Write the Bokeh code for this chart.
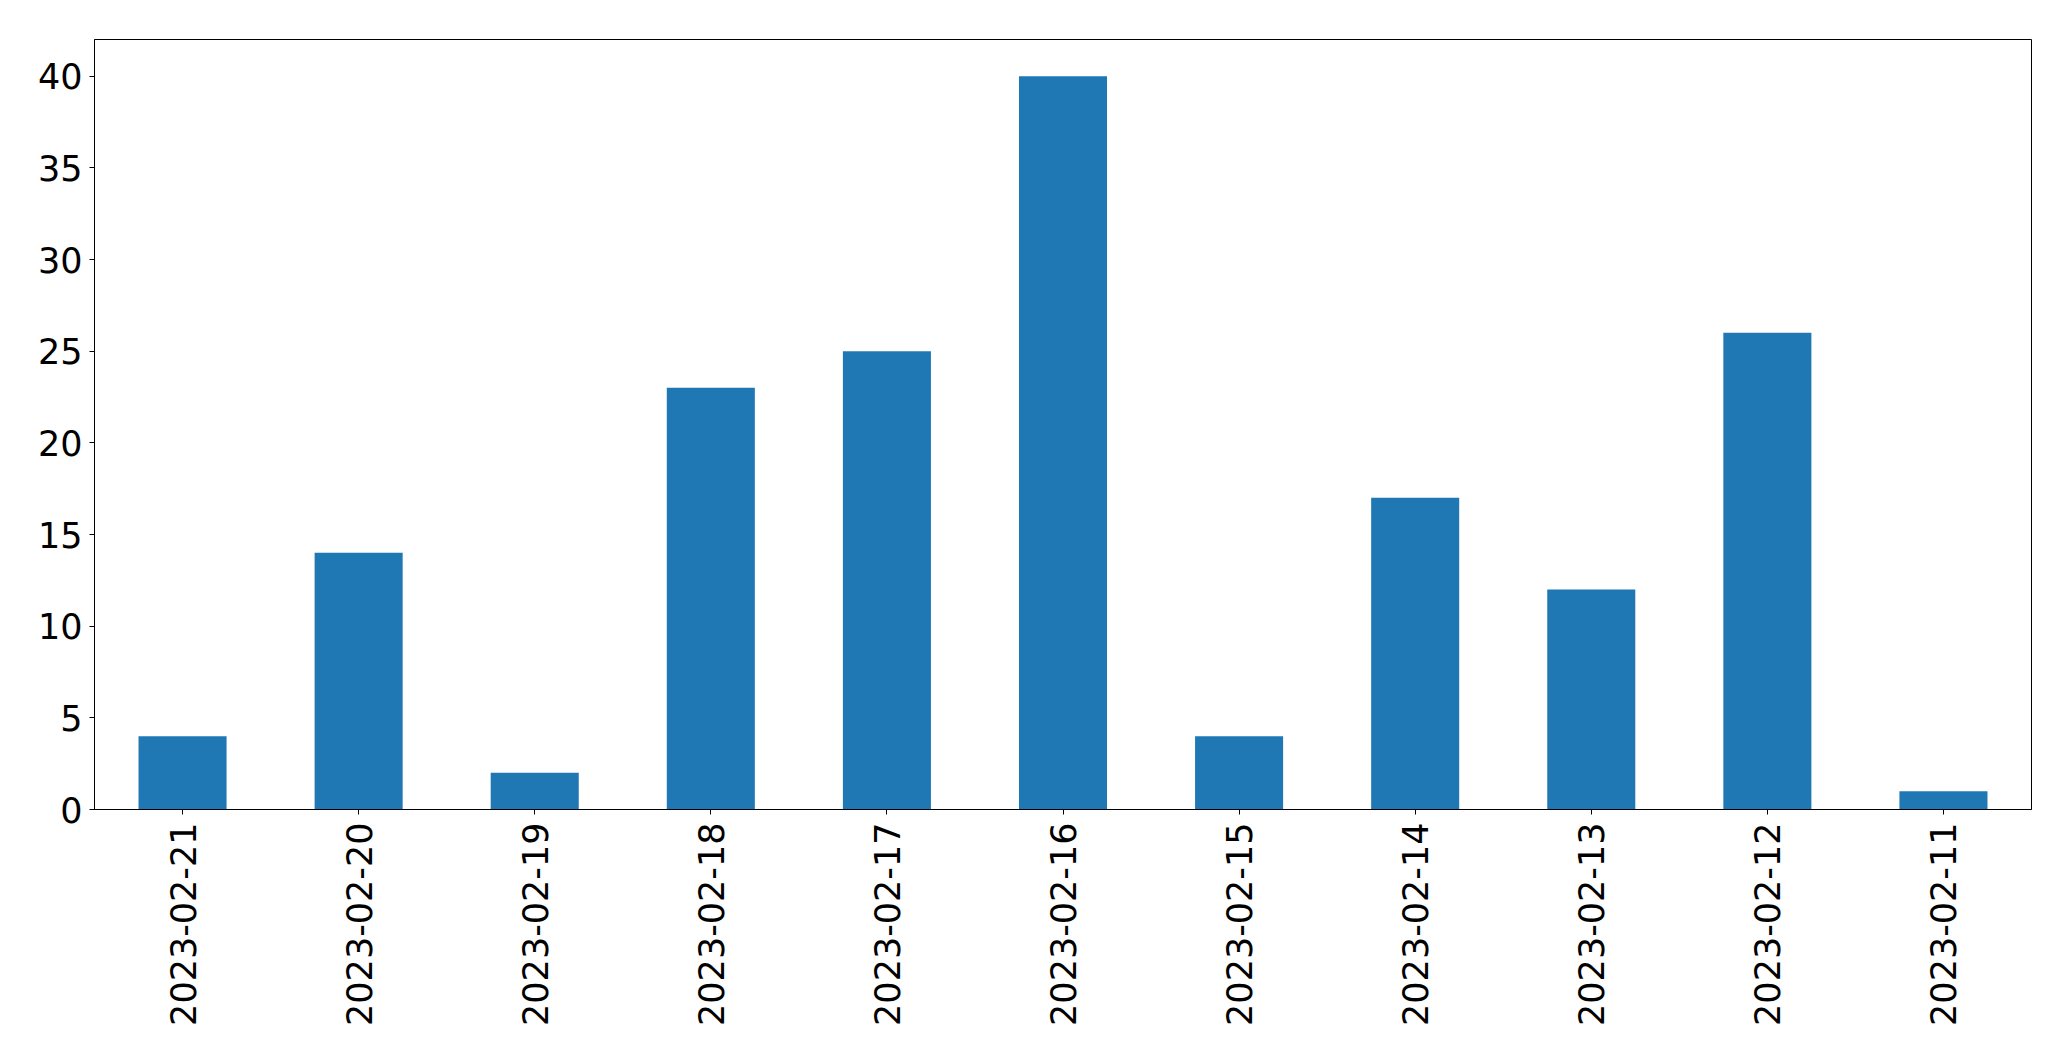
import math
from bokeh.plotting import figure
from bokeh.models import Range1d, FixedTicker, FactorRange
from bokeh.embed import file_html
from bokeh.resources import INLINE

dates = ["2023-02-21", "2023-02-20", "2023-02-19", "2023-02-18", "2023-02-17",
         "2023-02-16", "2023-02-15", "2023-02-14", "2023-02-13", "2023-02-12",
         "2023-02-11"]
counts = [4, 14, 2, 23, 25, 40, 4, 17, 12, 26, 1]
y_ticks = [0, 5, 10, 15, 20, 25, 30, 35, 40]

p = figure(x_range=FactorRange(*dates, range_padding=0), y_range=Range1d(0, 42),
           frame_width=1937, frame_height=770,
           min_border_left=94, min_border_top=39, min_border_right=24, min_border_bottom=236,
           output_backend="svg", toolbar_location=None)

p.vbar(x=dates, top=counts, width=0.5, color="#1f77b4", line_color=None)

p.xgrid.visible = False
p.ygrid.visible = False
p.outline_line_color = "black"
p.outline_line_width = 1
p.outline_line_alpha = 1

p.yaxis.ticker = FixedTicker(ticks=y_ticks)
for ax in (p.xaxis[0], p.yaxis[0]):
    ax.axis_line_color = "black"
    ax.major_tick_line_color = "black"
    ax.major_tick_out = 5
    ax.major_tick_in = 0
    ax.minor_tick_line_color = None
    ax.major_label_text_font = "DejaVu Sans"
    ax.major_label_text_font_size = "35px"
    ax.major_label_text_color = "black"
p.yaxis.major_label_standoff = 7
p.xaxis.major_label_standoff = 8
p.xaxis.major_label_orientation = math.pi / 2

open("out.html", "w").write(file_html(p, INLINE))
